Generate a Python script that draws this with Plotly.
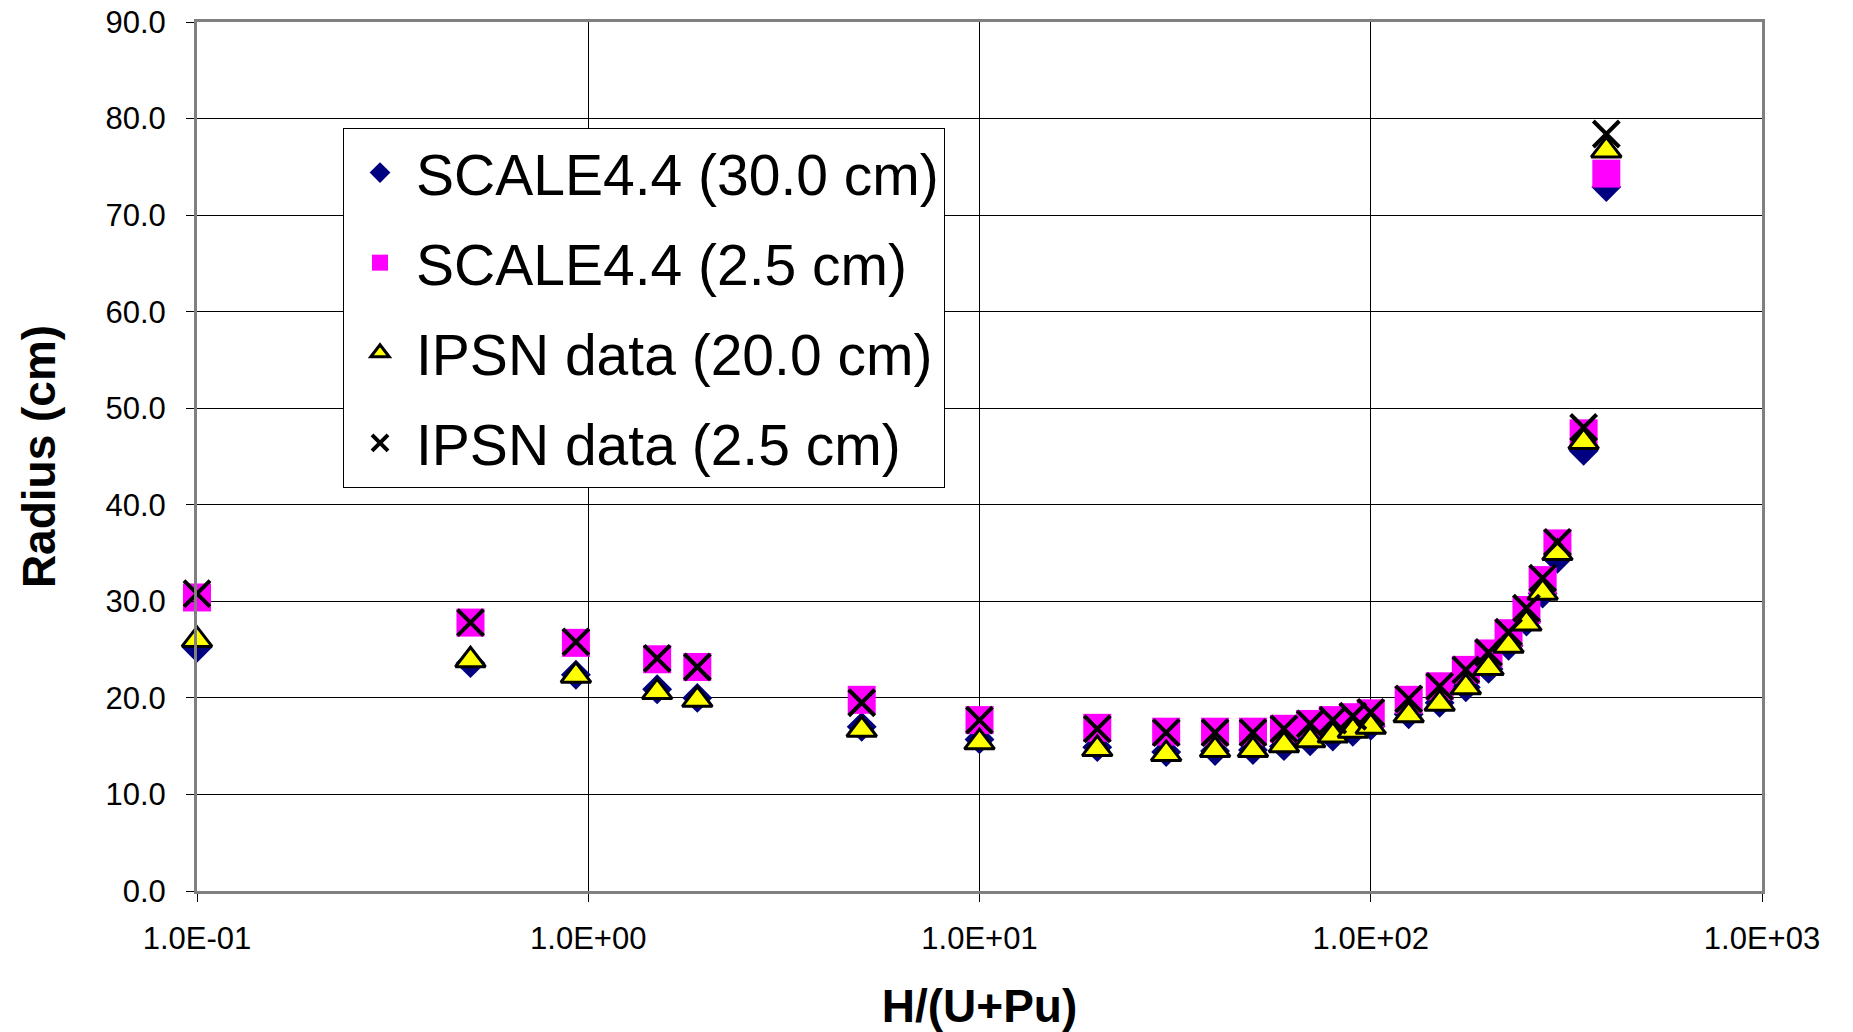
import plotly.graph_objects as go

# H/(U+Pu) ratio values
h_ratio = [0.1, 0.5, 0.93, 1.5, 1.9, 5, 10, 20, 30, 40, 50, 60, 70, 80, 90, 100,
           125, 150, 175, 200, 225, 250, 275, 300, 350, 400]

# Radius (cm) for each series
scale_30cm = [25.2, 23.6, 22.4, 20.9, 20.0, 17.0, 15.7, 14.9, 14.4, 14.5, 14.6, 15.0, 15.5,
              16.0, 16.5, 17.1, 18.3, 19.5, 21.1, 23.0, 25.4, 27.9, 30.8, 34.4, 45.6, 72.9]
scale_25cm = [30.4, 27.8, 25.7, 24.0, 23.2, 19.8, 17.7, 16.9, 16.5, 16.5, 16.5, 16.8, 17.3,
              17.7, 18.0, 18.4, 19.8, 21.2, 22.9, 24.6, 26.7, 29.1, 32.2, 36.0, 47.4, 74.3]
ipsn_20cm = [26.0, 23.9, 22.3, 20.6, 19.8, 16.7, 15.4, 14.7, 14.2, 14.6, 14.6, 15.1, 15.6,
             16.1, 16.6, 17.0, 18.2, 19.4, 21.1, 23.1, 25.4, 27.7, 30.9, 35.0, 46.5, 76.7]
ipsn_25cm = [30.8, 27.8, 25.8, 24.1, 23.2, 19.5, 17.7, 16.8, 16.4, 16.4, 16.4, 16.8, 17.3,
             17.7, 18.1, 18.5, 19.9, 21.2, 22.9, 24.7, 26.8, 29.3, 32.4, 36.1, 48.0, 78.4]

series_names = ["SCALE4.4 (30.0 cm)", "SCALE4.4 (2.5 cm)", "IPSN data (20.0 cm)", "IPSN data (2.5 cm)"]

x_tickvals = [0.1, 1, 10, 100, 1000]
x_ticktext = ["1.0E-01", "1.0E+00", "1.0E+01", "1.0E+02", "1.0E+03"]
y_tickvals = [0, 10, 20, 30, 40, 50, 60, 70, 80, 90]
y_ticktext = ["0.0", "10.0", "20.0", "30.0", "40.0", "50.0", "60.0", "70.0", "80.0", "90.0"]

FONT = "Liberation Sans, Arial, sans-serif"

fig = go.Figure()
fig.add_trace(go.Scatter(
    x=h_ratio, y=scale_30cm, mode="markers", name=series_names[0], legendgroup="a",
    cliponaxis=False,
    marker=dict(symbol="diamond", size=23, color="#000080", line=dict(width=0))))
fig.add_trace(go.Scatter(
    x=h_ratio, y=scale_25cm, mode="markers", name=series_names[1], legendgroup="b",
    cliponaxis=False,
    marker=dict(symbol="square", size=28, color="#FF00FF", line=dict(width=0))))
fig.add_trace(go.Scatter(
    x=h_ratio, y=ipsn_20cm, mode="markers", name=series_names[2], legendgroup="c",
    cliponaxis=False,
    marker=dict(symbol="triangle-up", size=26, color="#FFFF00", line=dict(width=3, color="#000000"))))
fig.add_trace(go.Scatter(
    x=h_ratio, y=ipsn_25cm, mode="markers", name=series_names[3], legendgroup="d",
    cliponaxis=False,
    marker=dict(symbol="x-thin-open", size=26, color="#000000", line=dict(width=4, color="#000000"))))

fig.update_layout(
    width=1853, height=1032,
    margin=dict(l=197, r=91, t=22, b=141, autoexpand=False),
    paper_bgcolor="white", plot_bgcolor="white",
    font=dict(family=FONT, color="black"),
    showlegend=True,
    legend=dict(
        x=0.0933, y=0.878, xanchor="left", yanchor="top",
        bgcolor="white", bordercolor="black", borderwidth=1,
        font=dict(size=57, family=FONT, color="black"),
        tracegroupgap=13, traceorder="grouped", itemwidth=62,
    ),
)
fig.update_xaxes(
    type="log", range=[-1, 3],
    tickvals=x_tickvals, ticktext=x_ticktext,
    tickfont=dict(size=31, family=FONT),
    ticks="outside", ticklen=8, tickcolor="black", tickwidth=1,
    ticklabelstandoff=10,
    showgrid=True, gridcolor="black", gridwidth=1,
    showline=True, linecolor="#808080", linewidth=3, mirror=True,
    zeroline=False,
    title=dict(text="<b>H/(U+Pu)</b>", font=dict(size=46, family=FONT), standoff=36),
    automargin=False,
)
fig.update_yaxes(
    range=[0, 90],
    tickvals=y_tickvals, ticktext=y_ticktext,
    tickfont=dict(size=31, family=FONT),
    ticks="outside", ticklen=8, tickcolor="black", tickwidth=1,
    ticklabelstandoff=14,
    showgrid=True, gridcolor="black", gridwidth=1,
    showline=True, linecolor="#808080", linewidth=3, mirror=True,
    zeroline=False,
    title=dict(text="<b>Radius (cm)</b>", font=dict(size=46, family=FONT), standoff=36),
    automargin=False,
)

fig.write_html("out.html")
